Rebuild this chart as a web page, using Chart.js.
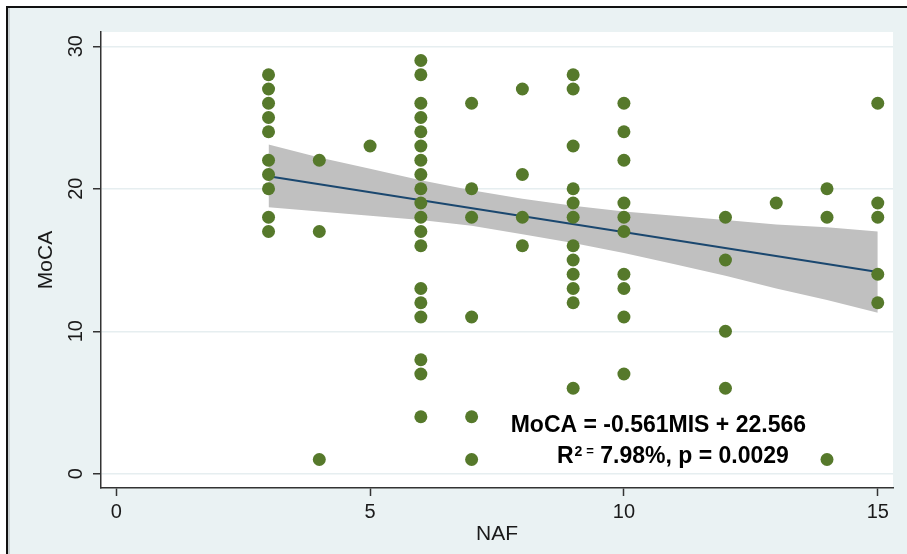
<!DOCTYPE html>
<html>
<head>
<meta charset="utf-8">
<script src="https://cdn.jsdelivr.net/npm/chart.js@4"></script>
<style>
  body { margin: 0; background: #fff; }
  #wrap { width: 907px; height: 554px; position: relative; }
</style>
</head>
<body>
<div id="wrap"><canvas id="mocaChart"></canvas></div>
<script>
// Puntos visibles: NAF (x) y MoCA (y)
var nafValues = [
  3, 3, 3, 3, 3, 3, 3, 3, 3, 3,
  4, 4, 4,
  5,
  6, 6, 6, 6, 6, 6, 6, 6, 6, 6, 6, 6, 6, 6, 6, 6, 6, 6, 6,
  7, 7, 7, 7, 7, 7,
  8, 8, 8, 8,
  9, 9, 9, 9, 9, 9, 9, 9, 9, 9, 9, 9,
  10, 10, 10, 10, 10, 10, 10, 10, 10, 10,
  12, 12, 12, 12,
  13,
  14, 14, 14,
  15, 15, 15, 15, 15
];
var mocaValues = [
  28, 27, 26, 25, 24, 22, 21, 20, 18, 17,
  22, 17, 1,
  23,
  29, 28, 26, 25, 24, 23, 22, 21, 20, 19, 18, 17, 16, 13, 12, 11, 8, 7, 4,
  26, 20, 18, 11, 4, 1,
  27, 21, 18, 16,
  28, 27, 23, 20, 19, 18, 16, 15, 14, 13, 12, 6,
  26, 24, 22, 19, 18, 17, 14, 13, 11, 7,
  18, 15, 10, 6,
  19,
  20, 18, 1,
  26, 19, 18, 14, 12
];

// Recta ajustada (extremos)
var fitNaf = [3, 15];
var fitMoca = [20.88, 14.15];

// Banda de confianza
var bandNaf = [3, 4, 5, 6, 7, 8, 9, 10, 11, 12, 13, 14, 15];
var bandUpper = [23.1, 22.2, 21.4, 20.6, 19.9, 19.3, 18.8, 18.4, 18.1, 17.8, 17.5, 17.3, 17.0];
var bandLower = [18.7, 18.4, 18.1, 17.8, 17.4, 16.8, 16.2, 15.5, 14.7, 13.9, 13.0, 12.2, 11.3];

var xTicks = [0, 5, 10, 15];
var yTicks = [0, 10, 20, 30];

var equationText = 'MoCA = -0.561MIS + 22.566';
var statsText = ' 7.98%, p = 0.0029';

var fam = '"Liberation Sans", Arial, sans-serif';

function toPoints(xs, ys) {
  return xs.map(function(x, i) { return { x: x, y: ys[i] }; });
}

// Fondo estilo Stata
var framePlugin = {
  id: 'frame',
  beforeDraw: function(chart) {
    var ctx = chart.ctx, a = chart.chartArea;
    ctx.save();
    ctx.fillStyle = '#ffffff';
    ctx.fillRect(0, 0, chart.width, chart.height);
    ctx.fillStyle = '#eaf2f3';
    ctx.fillRect(7, 7, chart.width - 7, chart.height - 7);
    ctx.fillStyle = '#111';
    ctx.fillRect(6, 6, chart.width - 6, 2);
    ctx.fillRect(6, 6, 2, chart.height - 6);
    ctx.fillStyle = '#c9d0d2';
    ctx.fillRect(8, 8, 2, chart.height - 8);
    ctx.fillStyle = '#ffffff';
    ctx.fillRect(a.left, a.top, a.right - a.left, a.bottom - a.top);
    ctx.restore();
  }
};

// Etiquetas del eje Y giradas y texto de la ecuación
var textPlugin = {
  id: 'texts',
  afterDraw: function(chart) {
    var ctx = chart.ctx;
    var xs = chart.scales.x, ys = chart.scales.y;
    ctx.save();
    ctx.fillStyle = '#1a1a1a';
    ctx.font = '20px ' + fam;
    ctx.textAlign = 'center';
    ctx.textBaseline = 'middle';
    yTicks.forEach(function(v) {
      ctx.save();
      ctx.translate(75, ys.getPixelForValue(v));
      ctx.rotate(-Math.PI / 2);
      ctx.fillText(String(v), 0, 1);
      ctx.restore();
    });

    ctx.fillStyle = '#000';
    ctx.textAlign = 'left';
    ctx.textBaseline = 'alphabetic';
    ctx.font = 'bold 23px ' + fam;
    ctx.fillText(equationText, xs.getPixelForValue(7.77), ys.getPixelForValue(2.95));

    var px = xs.getPixelForValue(8.68), py = ys.getPixelForValue(0.77);
    ctx.fillText('R', px, py);
    px += ctx.measureText('R').width + 1;
    ctx.font = 'bold 14px ' + fam;
    ctx.fillText('2', px, py - 7);
    px += ctx.measureText('2').width + 4;
    ctx.font = 'bold 13px ' + fam;
    ctx.fillText('=', px, py - 8);
    px += ctx.measureText('=').width;
    ctx.font = 'bold 23px ' + fam;
    ctx.fillText(statsText, px, py);
    ctx.restore();
  }
};

var ctxMoca = document.getElementById('mocaChart').getContext('2d');
var mocaChart = new Chart(ctxMoca, {
  type: 'scatter',
  data: {
    datasets: [{
      label: 'MoCA',
      data: toPoints(nafValues, mocaValues),
      backgroundColor: '#56792b',
      borderWidth: 0,
      pointRadius: 6.5,
      pointHoverRadius: 6.5
    }, {
      label: 'Ajuste',
      data: toPoints(fitNaf, fitMoca),
      showLine: true,
      borderColor: '#1a476f',
      borderWidth: 2,
      pointRadius: 0
    }, {
      label: 'IC superior',
      data: toPoints(bandNaf, bandUpper),
      showLine: true,
      borderWidth: 0,
      borderColor: 'rgba(0,0,0,0)',
      backgroundColor: '#c0c0c0',
      pointRadius: 0,
      fill: '+1'
    }, {
      label: 'IC inferior',
      data: toPoints(bandNaf, bandLower),
      showLine: true,
      borderWidth: 0,
      borderColor: 'rgba(0,0,0,0)',
      pointRadius: 0,
      fill: false
    }]
  },
  options: {
    responsive: true,
    maintainAspectRatio: false,
    animation: false,
    layout: { padding: { top: 32, right: 14, left: 0, bottom: 0 } },
    plugins: {
      legend: { display: false },
      tooltip: { enabled: false }
    },
    scales: {
      x: {
        type: 'linear',
        min: -0.3,
        max: 15.3,
        afterBuildTicks: function(s) { s.ticks = xTicks.map(function(v) { return { value: v }; }); },
        afterFit: function(s) { s.height = 66; s.paddingLeft = 0; s.paddingRight = 0; },
        grid: { drawOnChartArea: false, drawTicks: true, tickLength: 8, tickColor: '#333', tickWidth: 1.5 },
        border: { display: true, color: '#333', width: 1.5 },
        ticks: { color: '#1a1a1a', font: { size: 20, family: fam }, padding: 4, maxRotation: 0, autoSkip: false },
        title: { display: true, text: 'NAF', color: '#1a1a1a', font: { size: 21, family: fam }, padding: { top: 0, bottom: 7 } }
      },
      y: {
        type: 'linear',
        min: -1,
        max: 31,
        afterBuildTicks: function(s) { s.ticks = yTicks.map(function(v) { return { value: v }; }); },
        afterFit: function(s) { s.width = 101; s.paddingTop = 0; s.paddingBottom = 0; },
        grid: { color: '#e6eef0', lineWidth: 1.5, tickLength: 8, tickColor: '#333', tickWidth: 1.5 },
        border: { display: true, color: '#333', width: 1.5 },
        ticks: { display: false },
        title: { display: true, text: 'MoCA', color: '#1a1a1a', font: { size: 21, family: fam }, padding: { top: 34, bottom: 0 } }
      }
    }
  },
  plugins: [framePlugin, textPlugin]
});
</script>
</body>
</html>
